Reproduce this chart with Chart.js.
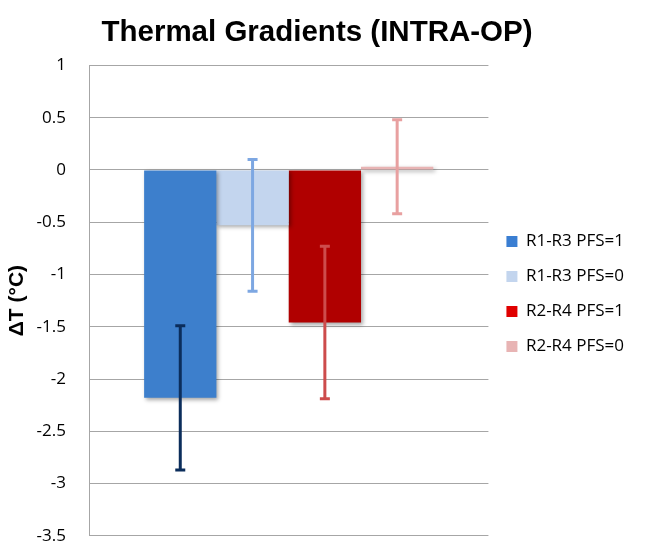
<!DOCTYPE html>
<html><head><meta charset="utf-8">
<script src="https://cdn.jsdelivr.net/npm/chart.js@4/dist/chart.umd.min.js"></script>
<style>html,body{margin:0;padding:0;background:#fff}#wrap{width:649px;height:547px;position:relative}</style>
</head><body><div id="wrap"><canvas id="c"></canvas></div>
<script>
// ---- data ----
const categories = [''];
const seriesNames = ['R1-R3 PFS=1', 'R1-R3 PFS=0', 'R2-R4 PFS=1', 'R2-R4 PFS=0'];
const meanValues = [-2.18, -0.53, -1.46, 0.03];
const errorValues = [0.69, 0.63, 0.73, 0.45];
const yTicks = [1, 0.5, 0, -0.5, -1, -1.5, -2, -2.5, -3, -3.5];

// ---- styles ----
const barColors = ['#3D7FCC', '#C3D5EE', '#B00000', '#E8B4B4'];
const legendColors = ['#3A7ED2', '#C3D5EE', '#E00000', '#E8B4B4'];
const errColors = ['#0B2D5B', '#7DA7E2', '#CD4C4C', '#E8A0A0'];

const datasets = seriesNames.map((name, i) => ({
  label: name,
  data: [meanValues[i]],
  backgroundColor: barColors[i],
  borderWidth: 0,
  errorBar: errorValues[i],
  errorColor: errColors[i],
  legendColor: legendColors[i]
}));

const shadowAndErrors = {
  id: 'shadowAndErrors',
  beforeDatasetsDraw(chart) {
    const ctx = chart.ctx;
    ctx.save();
    ctx.shadowColor = 'rgba(0,0,0,0.35)';
    ctx.shadowBlur = 4;
    ctx.shadowOffsetX = 2;
    ctx.shadowOffsetY = 2;
  },
  afterDatasetsDraw(chart) {
    const ctx = chart.ctx;
    ctx.restore();
    const y = chart.scales.y;
    chart.data.datasets.forEach((ds, i) => {
      const meta = chart.getDatasetMeta(i);
      meta.data.forEach((bar, j) => {
        const v = ds.data[j];
        const e = ds.errorBar;
        const x = bar.x;
        const yTop = y.getPixelForValue(v + e);
        const yBot = y.getPixelForValue(v - e);
        ctx.save();
        ctx.strokeStyle = ds.errorColor;
        ctx.lineWidth = 3;
        ctx.beginPath();
        ctx.moveTo(x, yTop); ctx.lineTo(x, yBot);
        ctx.moveTo(x - 5, yTop); ctx.lineTo(x + 5, yTop);
        ctx.moveTo(x - 5, yBot); ctx.lineTo(x + 5, yBot);
        ctx.stroke();
        ctx.restore();
      });
    });
  }
};

new Chart(document.getElementById('c'), {
  type: 'bar',
  data: { labels: categories, datasets },
  options: {
    responsive: true,
    maintainAspectRatio: false,
    animation: false,
    devicePixelRatio: 1,
    layout: { padding: { left: 0, right: 15, top: 0, bottom: 0 } },
    datasets: { bar: { categoryPercentage: 0.724, barPercentage: 1 } },
    plugins: {
      title: {
        display: true,
        text: 'Thermal Gradients (INTRA-OP)',
        color: '#000',
        font: { family: 'Liberation Sans', size: 29.5, weight: 'bold' },
        padding: { top: 15, bottom: 15 }
      },
      legend: {
        position: 'right',
        title: { display: true, text: '', font: { size: 10 }, padding: { top: 0, bottom: 29 } },
        labels: {
          color: '#000',
          font: { family: 'Open Sans', size: 17 },
          boxWidth: 11,
          boxHeight: 11,
          padding: 18,
          generateLabels(chart) {
            return chart.data.datasets.map((ds, i) => ({
              text: ds.label,
              fillStyle: ds.legendColor,
              strokeStyle: ds.legendColor,
              lineWidth: 0,
              datasetIndex: i,
              fontColor: '#000'
            }));
          }
        }
      },
      tooltip: { enabled: false }
    },
    scales: {
      x: { display: false },
      y: {
        min: -3.5,
        max: 1,
        afterBuildTicks(scale) { scale.ticks = yTicks.map(v => ({ value: v })); },
        afterFit(scale) { scale.width = 89; },
        ticks: {
          color: '#000',
          font: { family: 'Open Sans', size: 17 },
          padding: 1,
          callback: v => String(v)
        },
        grid: { color: '#A6A6A6', lineWidth: 1, drawTicks: true, tickLength: 22, tickColor: 'rgba(0,0,0,0)' },
        border: { display: true, color: '#A6A6A6', width: 1 },
        title: {
          display: true,
          text: 'ΔT (°C)',
          color: '#000',
          font: { family: 'Liberation Sans', size: 21, weight: 'bold' },
          padding: { top: 5, bottom: 0 }
        }
      }
    }
  },
  plugins: [shadowAndErrors]
});
</script>
</body></html>
